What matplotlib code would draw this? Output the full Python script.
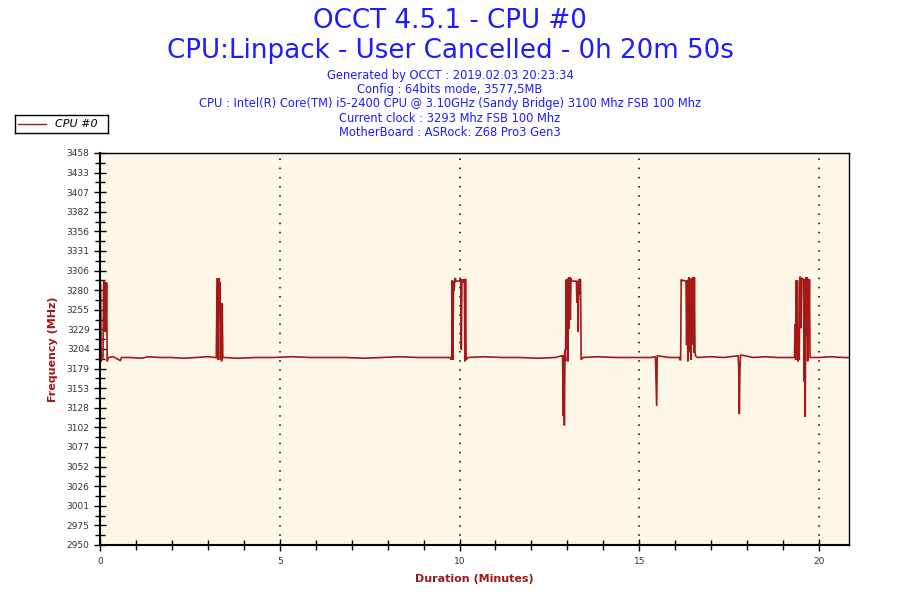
import numpy as np
import matplotlib
matplotlib.use("Agg")
import matplotlib.pyplot as plt
from matplotlib.ticker import MultipleLocator, FixedLocator
from matplotlib.lines import Line2D

# ---------------- data ----------------
title_lines = ["OCCT 4.5.1 - CPU #0", "CPU:Linpack - User Cancelled - 0h 20m 50s"]
info_lines = [
    "Generated by OCCT : 2019.02.03 20:23:34",
    "Config : 64bits mode, 3577,5MB",
    "CPU : Intel(R) Core(TM) i5-2400 CPU @ 3.10GHz (Sandy Bridge) 3100 Mhz FSB 100 Mhz",
    "Current clock : 3293 Mhz FSB 100 Mhz",
    "MotherBoard : ASRock: Z68 Pro3 Gen3",
]
series_name = "CPU #0"
y_tick_labels = ["2950", "2975", "3001", "3026", "3052", "3077", "3102", "3128",
                 "3153", "3179", "3204", "3229", "3255", "3280", "3306", "3331",
                 "3356", "3382", "3407", "3433", "3458"]
x_ticks = [0, 5, 10, 15, 20]

# baseline samples (seconds, MHz)
base_t = [14, 22, 34, 36, 50, 70, 80, 100, 120, 140, 160, 180, 192,
          207, 230, 260, 290, 320, 350, 380, 410, 440, 470, 500, 530, 560, 584,
          614, 640, 670, 700, 730, 760, 770,
          806, 830, 860, 890, 920, 926,
          932, 950, 966,
          997, 1020, 1040, 1063,
          1071, 1090, 1110, 1130, 1150, 1157,
          1187, 1200, 1220, 1240, 1250]
base_v = [3193, 3194, 3189, 3193, 3193, 3192, 3194, 3193, 3193, 3192, 3193, 3194, 3193,
          3193, 3192, 3193, 3193, 3194, 3193, 3193, 3193, 3192, 3193, 3194, 3193, 3193, 3193,
          3193, 3194, 3193, 3193, 3192, 3193, 3195,
          3193, 3194, 3193, 3193, 3193, 3194,
          3195, 3193, 3193,
          3193, 3194, 3193, 3195,
          3196, 3193, 3194, 3193, 3193, 3193,
          3193, 3193, 3194, 3193, 3193]

# activity bursts (seconds, MHz)
burst_t = [0, 1, 2, 3, 4, 5, 6, 7, 8, 9, 10, 11, 12,
           194, 195, 196, 197, 198, 199, 200, 201, 202, 203, 204, 205,
           586, 587, 588, 589, 590, 591, 592, 593, 594, 600, 601, 602, 603, 604,
           605, 606, 607, 608, 609, 610, 611,
           772, 773, 774, 775, 776, 777, 778, 779, 780, 781, 782, 783, 784, 785,
           786, 787, 795, 796, 797, 798, 799, 800, 801, 802, 803,
           927, 928, 929, 930,
           967, 968, 969, 970, 971, 972, 978, 979, 980, 981, 982, 983, 984, 985,
           986, 987, 988, 989, 990, 991, 992, 993, 994,
           1065, 1066, 1067, 1068, 1069,
           1159, 1160, 1161, 1162, 1163, 1164, 1165, 1166, 1167, 1168, 1169, 1170,
           1171, 1172, 1173, 1174, 1175, 1176, 1177, 1178, 1179, 1180, 1181, 1182,
           1183, 1184, 1185]
burst_v = [3287, 3287, 3188, 3195, 3190, 3195, 3292, 3292, 3226, 3290, 3226, 3290, 3188,
           3193, 3260, 3296, 3190, 3296, 3263, 3291, 3190, 3263, 3188, 3263, 3193,
           3190, 3193, 3293, 3190, 3292, 3280, 3292, 3296, 3292, 3292, 3294, 3294, 3203, 3294,
           3292, 3294, 3290, 3294, 3188, 3295, 3190,
           3196, 3117, 3196, 3105, 3203, 3188, 3294, 3203, 3294, 3188, 3297, 3230, 3297, 3242,
           3296, 3292, 3292, 3264, 3292, 3226, 3294, 3274, 3294, 3294, 3190,
           3193, 3160, 3130, 3195,
           3193, 3190, 3190, 3294, 3292, 3293, 3292, 3209, 3293, 3188, 3294, 3297, 3200, 3295,
           3190, 3294, 3296, 3210, 3297, 3199, 3297, 3201, 3195,
           3195, 3179, 3120, 3179, 3196,
           3193, 3236, 3190, 3293, 3190, 3293, 3188, 3203, 3190, 3297, 3297, 3231,
           3296, 3295, 3295, 3294, 3162, 3294, 3116, 3297, 3222, 3297, 3188, 3295,
           3222, 3294, 3193]

y_min, y_max = 2950, 3458
x_max_min = 1250 / 60.0

# ---------------- build series ----------------
t_all = np.array(base_t + burst_t, dtype=float)
v_all = np.array(base_v + burst_v, dtype=float)
order = np.argsort(t_all, kind="stable")
t_min = t_all[order] / 60.0
v_sorted = v_all[order]

# ---------------- figure ----------------
line_color = "#A51818"
blue = "#1C1CFF"
label_red = "#A01818"

fig = plt.figure(figsize=(9, 6), dpi=100)
fig.patch.set_facecolor("white")
ax = fig.add_axes([100 / 900, 55 / 600, 749 / 900, 392 / 600])
ax.set_facecolor("#FEF7E8")

ax.plot(t_min, v_sorted, color=line_color, lw=1.2, solid_joinstyle="miter")

ax.set_xlim(0, x_max_min)
ax.set_ylim(y_min, y_max)

y_pos = np.linspace(y_min, y_max, len(y_tick_labels))
ax.yaxis.set_major_locator(FixedLocator(y_pos))
ax.set_yticklabels(y_tick_labels)
ax.yaxis.set_minor_locator(FixedLocator((y_pos[:-1] + y_pos[1:]) / 2))
ax.set_xticks(x_ticks)
ax.set_xticklabels([str(v) for v in x_ticks])
ax.xaxis.set_minor_locator(MultipleLocator(1))

ax.tick_params(which="major", direction="inout", length=9, width=1, color="black",
               labelsize=6.5, labelcolor="#333333", pad=3)
ax.tick_params(which="minor", direction="inout", length=7, width=1, color="black")
ax.tick_params(axis="x", which="major", pad=4)

for s in ax.spines.values():
    s.set_color("black")
    s.set_linewidth(1.0)
ax.spines["left"].set_linewidth(1.5)
ax.spines["bottom"].set_linewidth(1.5)

for xv in x_ticks[1:]:
    ax.axvline(xv, color="black", lw=1.1, linestyle=(0, (1, 5)), zorder=0.5)

ax.set_ylabel("Frequency (MHz)", color=label_red, fontsize=8, fontweight="bold", labelpad=6)
ax.set_xlabel("Duration (Minutes)", color=label_red, fontsize=8, fontweight="bold", labelpad=6)

# titles
fig.text(0.5, 1 - 21 / 600, title_lines[0], ha="center", va="center", fontsize=18.8, color=blue)
fig.text(0.5, 1 - 51 / 600, title_lines[1], ha="center", va="center", fontsize=18.8, color=blue)
for i, line in enumerate(info_lines):
    fig.text(0.5, 1 - (76 + 14 * i) / 600, line, ha="center", va="center",
             fontsize=8.3, color=blue)

# legend box
leg_ax = fig.add_axes([15 / 900, 1 - 133 / 600, 93 / 900, 18 / 600])
leg_ax.set_xlim(0, 93)
leg_ax.set_ylim(0, 18)
leg_ax.set_xticks([])
leg_ax.set_yticks([])
leg_ax.set_facecolor("white")
for s in leg_ax.spines.values():
    s.set_color("black")
    s.set_linewidth(1.0)
leg_ax.add_line(Line2D([3, 31], [9, 9], color=line_color, lw=1.0))
leg_ax.text(40, 9, series_name, fontsize=8, style="italic", color="black",
            va="center", ha="left")

fig.savefig("out.png", dpi=100)
